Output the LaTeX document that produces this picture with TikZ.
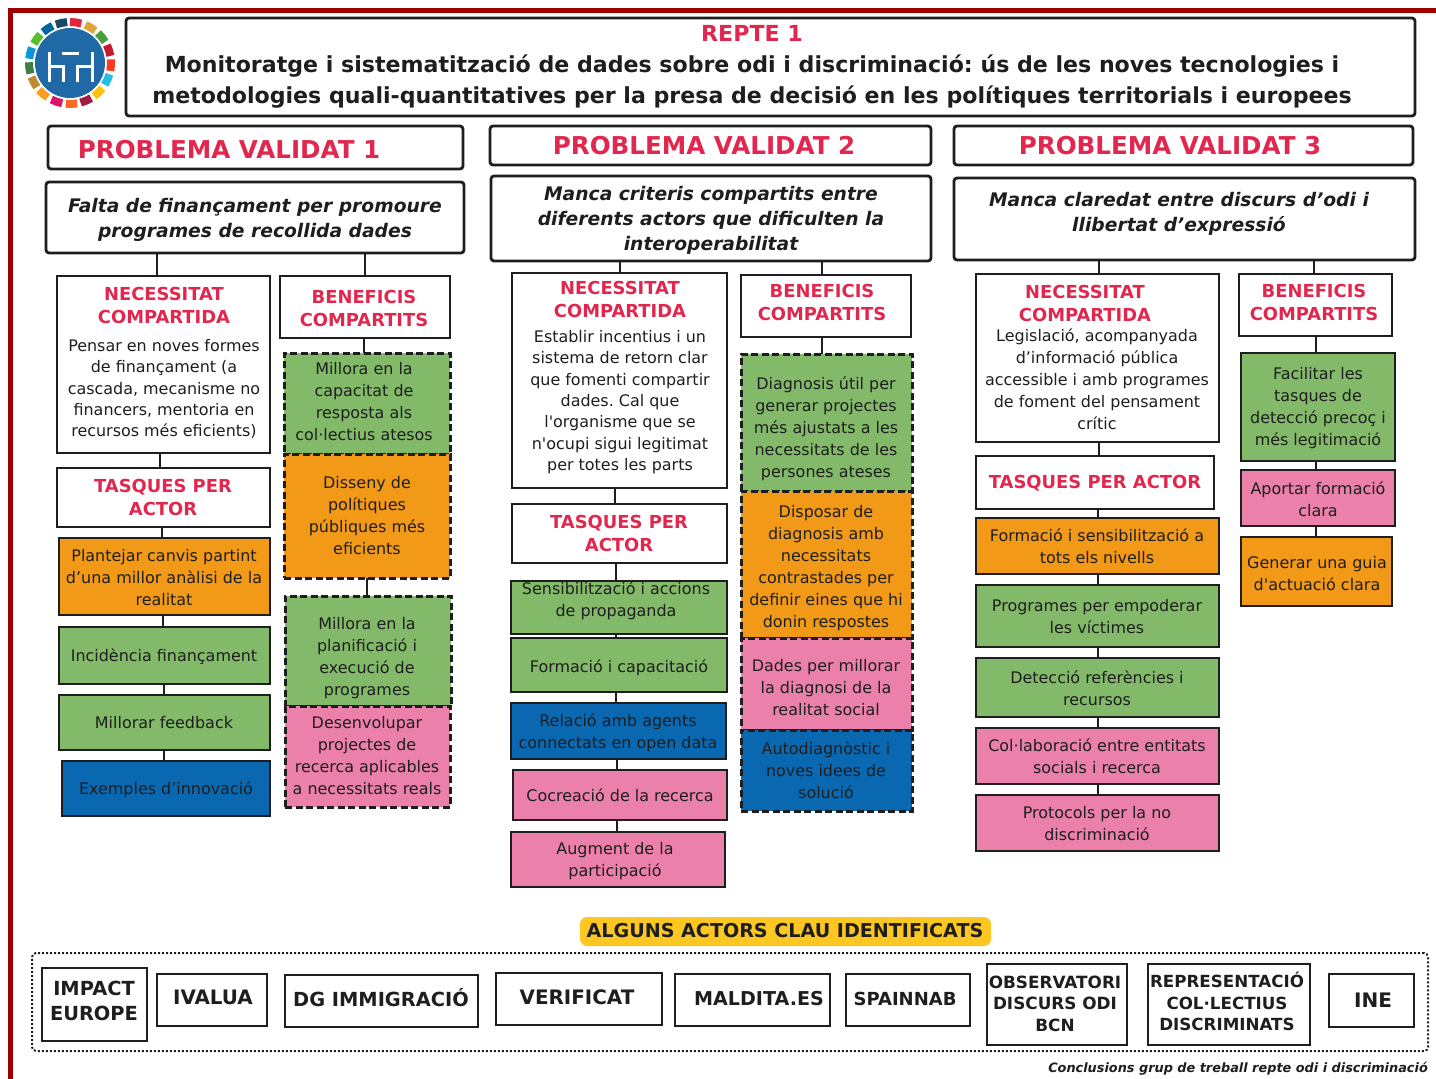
\documentclass[tikz,border=0pt]{standalone}
\usepackage{fontspec}
\setmainfont{DejaVu Sans}
\frenchspacing
\newfontfamily\plainf{DejaVu Sans}
\newcommand\stq{{\plainf'}}
\definecolor{frame}{HTML}{9E0000}
\definecolor{rd}{HTML}{E2274F}
\definecolor{ink}{HTML}{1E1E1E}
\definecolor{og}{HTML}{F29A18}
\definecolor{gn}{HTML}{83BA69}
\definecolor{bl}{HTML}{0A68B1}
\definecolor{pk}{HTML}{EB80AA}
\definecolor{yl}{HTML}{FCC623}
\definecolor{logoblue}{HTML}{1F69A6}
\newcommand\bodyf{\fontsize{15.95}{22}\selectfont}
\newcommand\hd[1]{{\fontsize{17.9}{22}\selectfont\bfseries\color{rd}#1}}
\newcommand\bx[9]{%
  \pgfmathsetmacro\bxW{#4-#2}\pgfmathsetmacro\bxH{#5-#3}%
  \pgfmathsetmacro\bxX{(#2+#4)/2}\pgfmathsetmacro\bxY{(#3+#5)/2}%
  \pgfmathsetmacro\bxDX{2*(#7-\bxX)}\pgfmathsetmacro\bxDY{\bxY-#8-6.5}%
  \node[#6,minimum width=\bxW pt,minimum height=\bxH pt] (#1) at (\bxX,\bxY)
    {\makebox[0pt][c]{\hspace*{\bxDX pt}\raisebox{\bxDY pt}[0pt][0pt]{\begin{tabular}{@{}c@{}}#9\end{tabular}}}};}
\newcommand\conn[3]{\draw[connline] (#1.south -| #3,0) -- (#2.north -| #3,0);}
\tikzset{
  base/.style={draw=ink,line width=2.8pt,inner sep=0pt,outer sep=0pt,text=ink,font=\bodyf},
  whitebox/.style={base,fill=white},
  roundbox/.style={base,fill=white,rounded corners=3pt},
  orangebox/.style={base,fill=og},
  greenbox/.style={base,fill=gn},
  bluebox/.style={base,fill=bl},
  pinkbox/.style={base,fill=pk},
  dashedbox/.style={line width=3pt,dash pattern=on 7pt off 3.5pt},
  connline/.style={draw=ink,line width=2.8pt},
  probtitle/.style={roundbox,font=\fontsize{24.6}{28}\selectfont\bfseries,text=rd},
  question/.style={roundbox,font=\fontsize{18.7}{25}\selectfont\bfseries\itshape},
  actorbox/.style={whitebox,font=\fontsize{19.4}{22}\selectfont\bfseries},
}
\begin{document}
\begin{tikzpicture}[x=1pt,y=-1pt]
\useasboundingbox (0,0) rectangle (1436,1079);
% outer frame
\fill[frame] (8,8) rectangle (1436,13);
\fill[frame] (8,8) rectangle (13,1079);
% logo
\fill[logoblue] (70,63) circle[radius=35pt];
\foreach \a/\c in {8/E5243B,30/DDA63A,51/4C9F38,72/C5192D,93/FF3A21,114/26BDE2,136/FCC30B,157/A21942,178/FD6925,199/DD1367,221/FD9D24,242/BF8B2E,263/3F7E44,284/0A97D9,306/56C02B,327/00689D,348/19486A}{
  \definecolor{segc}{HTML}{\c}
  \draw[segc,line width=8pt] ({70+41*sin(\a-8)},{63-41*cos(\a-8)}) -- ({70+41*sin(\a)},{63-41*cos(\a)}) -- ({70+41*sin(\a+8)},{63-41*cos(\a+8)});
}
\draw[white,line width=3pt] (49,52) -- (49,82) (49,66) -- (63,66) -- (63,82) (62,53) -- (79,53) (77,82) -- (77,66) -- (92,66) (92,52) -- (92,82);
% header
\bx{repte}{126}{18}{1415}{116}{roundbox,font=\fontsize{22.1}{31}\selectfont\bfseries}{752}{65}{{\color{rd}REPTE 1}\\Monitoratge i sistematització de dades sobre odi i discriminació: ús de les noves tecnologies i\\metodologies quali-quantitatives per la presa de decisió en les polítiques territorials i europees}
% problem titles
\bx{p1}{48}{126}{463}{169}{probtitle}{229}{153}{PROBLEMA VALIDAT 1}
\bx{p2}{490}{126}{931}{165}{probtitle}{704}{149}{PROBLEMA VALIDAT 2}
\bx{p3}{954}{126}{1413}{165}{probtitle}{1170}{149}{PROBLEMA VALIDAT 3}
% questions
\bx{q1}{46}{182}{464}{253}{question}{255}{217.5}{Falta de finançament per promoure\\programes de recollida dades}
\bx{q2}{491}{176}{931}{261}{question}{711}{218}{Manca criteris compartits entre\\diferents actors que dificulten la\\interoperabilitat}
\bx{q3}{954}{178}{1415}{260}{question}{1179}{212}{Manca claredat entre discurs d’odi i\\llibertat d’expressió}
% column 1, left
\bx{n1}{57}{276}{270}{453}{whitebox}{164}{362}{\hd{NECESSITAT}\\[1pt]\hd{COMPARTIDA}\\[6pt]Pensar en noves formes\\[-0.6pt]de finançament (a\\[-0.6pt]cascada, mecanisme no\\[-0.6pt]financers, mentoria en\\[-0.6pt]recursos més eficients)}
\bx{t1}{57}{468}{270}{527}{whitebox}{163}{497.5}{\hd{TASQUES PER}\\[1pt]\hd{ACTOR}}
\bx{a11}{59}{538}{270}{615}{orangebox}{164}{577}{Plantejar canvis partint\\d’una millor anàlisi de la\\realitat}
\bx{a12}{59}{627}{270}{684}{greenbox}{164}{655}{Incidència finançament}
\bx{a13}{59}{695}{270}{750}{greenbox}{164}{722}{Millorar feedback}
\bx{a14}{62}{761}{270}{816}{bluebox}{166}{788}{Exemples d’innovació}
% column 1, right
\bx{b1}{280}{276}{450}{338}{whitebox}{364}{308}{\hd{BENEFICIS}\\[1pt]\hd{COMPARTITS}}
\bx{c11}{284}{353}{450}{454}{greenbox,dashedbox}{364}{401}{Millora en la\\capacitat de\\resposta als\\col·lectius atesos}
\bx{c12}{284}{454}{450}{578}{orangebox,dashedbox}{367}{515}{Disseny de\\polítiques\\públiques més\\eficients}
\bx{c13}{285}{596}{451}{706}{greenbox,dashedbox}{367}{656}{Millora en la\\planificació i\\execució de\\programes}
\bx{c14}{285}{706}{450}{807}{pinkbox,dashedbox}{367}{755}{Desenvolupar\\projectes de\\recerca aplicables\\a necessitats reals}
% column 2, left
\bx{n2}{512}{273}{727}{488}{whitebox}{620}{376}{\hd{NECESSITAT}\\[1pt]\hd{COMPARTIDA}\\[3pt]Establir incentius i un\\[-0.6pt]sistema de retorn clar\\[-0.6pt]que fomenti compartir\\[-0.6pt]dades. Cal que\\[-0.6pt]l\stq organisme que se\\[-0.6pt]n\stq ocupi sigui legitimat\\[-0.6pt]per totes les parts}
\bx{t2}{512}{504}{727}{563}{whitebox}{619}{533.5}{\hd{TASQUES PER}\\[1pt]\hd{ACTOR}}
\bx{a21}{511}{581}{727}{634}{greenbox}{616}{599}{Sensibilització i accions\\de propaganda}
\bx{a22}{511}{638}{727}{692}{greenbox}{619}{666}{Formació i capacitació}
\bx{a23}{511}{703}{726}{759}{bluebox}{618}{731}{Relació amb agents\\connectats en open data}
\bx{a24}{513}{770}{727}{820}{pinkbox}{620}{795}{Cocreació de la recerca}
\bx{a25}{511}{832}{725}{887}{pinkbox}{615}{859}{Augment de la\\participació}
% column 2, right
\bx{b2}{741}{275}{911}{337}{whitebox}{822}{302.5}{\hd{BENEFICIS}\\[1pt]\hd{COMPARTITS}}
\bx{c21}{741}{354}{912}{491}{greenbox,dashedbox}{826}{426.5}{Diagnosis útil per\\generar projectes\\més ajustats a les\\necessitats de les\\persones ateses}
\bx{c22}{741}{491}{912}{638}{orangebox,dashedbox}{826}{565.5}{Disposar de\\diagnosis amb\\necessitats\\contrastades per\\definir eines que hi\\donin respostes}
\bx{c23}{741}{638}{912}{730}{pinkbox,dashedbox}{826}{687}{Dades per millorar\\la diagnosi de la\\realitat social}
\bx{c24}{741}{730}{912}{811}{bluebox,dashedbox}{826}{770}{Autodiagnòstic i\\noves idees de\\solució}
% column 3, left
\bx{n3}{976}{274}{1219}{442}{whitebox}{1097}{357}{\hd{\hspace*{-24pt}NECESSITAT}\\[1pt]\hd{\hspace*{-24pt}COMPARTIDA}\\[-2pt]Legislació, acompanyada\\d’informació pública\\accessible i amb programes\\de foment del pensament\\crític}
\bx{t3}{976}{456}{1214}{509}{whitebox}{1095}{482}{\hd{TASQUES PER ACTOR}}
\bx{a31}{976}{518}{1219}{574}{orangebox}{1097}{546}{Formació i sensibilització a\\tots els nivells}
\bx{a32}{976}{585}{1219}{647}{greenbox}{1097}{616}{Programes per empoderar\\les víctimes}
\bx{a33}{976}{658}{1219}{717}{greenbox}{1097}{688}{Detecció referències i\\recursos}
\bx{a34}{976}{728}{1219}{784}{pinkbox}{1097}{756}{Col·laboració entre entitats\\socials i recerca}
\bx{a35}{976}{795}{1219}{851}{pinkbox}{1097}{823}{Protocols per la no\\discriminació}
% column 3, right
\bx{b3}{1239}{274}{1392}{336}{whitebox}{1314}{302.5}{\hd{BENEFICIS}\\[1pt]\hd{COMPARTITS}}
\bx{c31}{1241}{353}{1395}{461}{greenbox}{1318}{405.5}{Facilitar les\\tasques de\\detecció precoç i\\més legitimació}
\bx{c32}{1241}{470}{1395}{526}{pinkbox}{1318}{499}{Aportar formació\\clara}
\bx{c33}{1241}{537}{1392}{606}{orangebox}{1317}{573}{Generar una guia\\d\stq actuació clara}
% connectors
\conn{q1}{n1}{157}\conn{q1}{b1}{365}
\conn{n1}{t1}{160}\conn{t1}{a11}{162}\conn{a11}{a12}{163}\conn{a12}{a13}{164}\conn{a13}{a14}{164}
\conn{b1}{c11}{364}\conn{c12}{c13}{367}
\conn{q2}{n2}{620}\conn{q2}{b2}{822}
\conn{n2}{t2}{615}\conn{t2}{a21}{616}\conn{a21}{a22}{616}\conn{a22}{a23}{616}\conn{a23}{a24}{617}\conn{a24}{a25}{617}
\conn{b2}{c21}{822}
\conn{q3}{n3}{1099}\conn{q3}{b3}{1314}
\conn{n3}{t3}{1099}\conn{t3}{a31}{1098}\conn{a31}{a32}{1098}\conn{a32}{a33}{1098}\conn{a33}{a34}{1098}\conn{a34}{a35}{1098}
\conn{b3}{c31}{1316}\conn{c31}{c32}{1316}\conn{c32}{c33}{1316}
% key actors
\bx{actors}{580}{917}{991}{946}{draw=none,fill=yl,rounded corners=7pt,inner sep=0pt,text=ink,font=\fontsize{19.1}{22}\selectfont\bfseries}{785}{932}{ALGUNS ACTORS CLAU IDENTIFICATS}
\bx{actorframe}{32}{953}{1428}{1051}{draw=ink,line width=2pt,rounded corners=4pt,dash pattern=on 2pt off 2pt,inner sep=0pt}{730}{1002}{}
\bx{e1}{42}{968}{147}{1041}{actorbox}{94}{1002}{IMPACT\\[3pt]EUROPE}
\bx{e2}{157}{974}{267}{1026}{actorbox,font=\fontsize{19.9}{22}\selectfont\bfseries}{213}{999}{IVALUA}
\bx{e3}{285}{975}{478}{1027}{actorbox}{381}{999}{DG IMMIGRACIÓ}
\bx{e4}{496}{973}{662}{1025}{actorbox,font=\fontsize{19.9}{22}\selectfont\bfseries}{577}{999}{VERIFICAT}
\bx{e5}{675}{974}{830}{1026}{actorbox,font=\fontsize{19.1}{22}\selectfont\bfseries}{759}{1000}{MALDITA.ES}
\bx{e6}{846}{974}{970}{1026}{actorbox,font=\fontsize{18}{22}\selectfont\bfseries}{905}{999}{SPAINNAB}
\bx{e7}{987}{964}{1127}{1045}{actorbox,font=\fontsize{16.85}{21.5}\selectfont\bfseries}{1055}{1003.5}{OBSERVATORI\\DISCURS ODI\\BCN}
\bx{e8}{1148}{964}{1310}{1045}{actorbox,font=\fontsize{16.7}{21.5}\selectfont\bfseries}{1227}{1002.5}{REPRESENTACIÓ\\COL·LECTIUS\\DISCRIMINATS}
\bx{e9}{1329}{974}{1414}{1027}{actorbox,font=\fontsize{20}{22}\selectfont\bfseries}{1373}{1002}{INE}
\node[anchor=east,inner sep=0pt,text=ink,font=\fontsize{12.86}{16}\selectfont\bfseries\itshape] (credit) at (1428,1069) {Conclusions grup de treball repte odi i discriminació};
\end{tikzpicture}
\end{document}
